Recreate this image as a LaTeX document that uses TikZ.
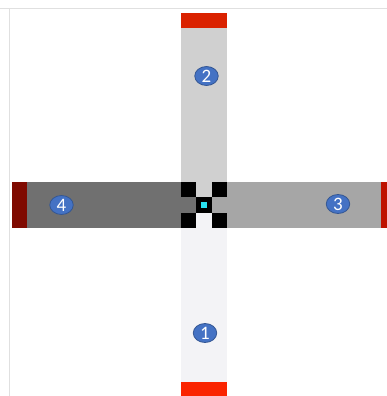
\documentclass[tikz,border=0pt]{standalone}
\usepackage{fontspec}
\setsansfont{Carlito}
\usetikzlibrary{shapes.geometric,positioning}
\definecolor{armNorth}{RGB}{208,208,208}
\definecolor{armWest}{RGB}{112,112,112}
\definecolor{armEast}{RGB}{166,166,166}
\definecolor{armSouth}{RGB}{243,243,246}
\definecolor{capNorth}{RGB}{218,34,0}
\definecolor{capWest}{RGB}{127,10,0}
\definecolor{capEast}{RGB}{190,18,0}
\definecolor{capSouth}{RGB}{250,36,0}
\definecolor{badgeBlue}{RGB}{68,114,196}
\definecolor{hubCyan}{RGB}{40,225,240}
\definecolor{frameGray}{RGB}{224,224,224}
\tikzset{
  badge/.style={ellipse,draw=badgeBlue!75!black,fill=badgeBlue,line width=0.8pt,minimum width=23.5pt,minimum height=19pt,inner sep=0pt,text=white,font=\sffamily\fontsize{19}{19}\selectfont},
  hubcell/.style={fill=black}
}
\begin{document}
\begin{tikzpicture}[x=1pt,y=-1pt]
\useasboundingbox (0,0) rectangle (387,396);
\draw[frameGray,line width=0.8pt] (0,8) -- (387,8) (9.7,8) -- (9.7,396);
% arms
\fill[armNorth] (181,28) rectangle (227,182);
\fill[armSouth] (181,228) rectangle (227,382);
\fill[armWest] (27,182) rectangle (181,228);
\fill[armEast] (227,182) rectangle (381,228);
% red caps
\fill[capNorth] (181,13) rectangle (227,28);
\fill[capSouth] (181,382) rectangle (227,396);
\fill[capWest] (12,182) rectangle (27,228);
\fill[capEast] (381,182) rectangle (387,228);
% hub
\fill[armNorth] (196.3,182) rectangle (211.7,197.3);
\fill[armSouth] (196.3,212.7) rectangle (211.7,228);
\fill[armWest] (181,197.3) rectangle (196.3,212.7);
\fill[armEast] (211.7,197.3) rectangle (227,212.7);
\foreach \cx/\cy in {181/182,211.7/182,196.3/197.3,181/212.7,211.7/212.7}
  \fill[hubcell] (\cx,\cy) rectangle ++(15.3,15.3);
\fill[hubCyan] (200.7,201.7) rectangle (207.3,208.3);
% numbered badges
\node[badge] (b1) at (205,333) {1};
\node[badge] (b2) at (206.5,76) {2};
\node[badge] (b3) at (338,204) {3};
\node[badge] (b4) at (61.5,205) {4};
\end{tikzpicture}
\end{document}
